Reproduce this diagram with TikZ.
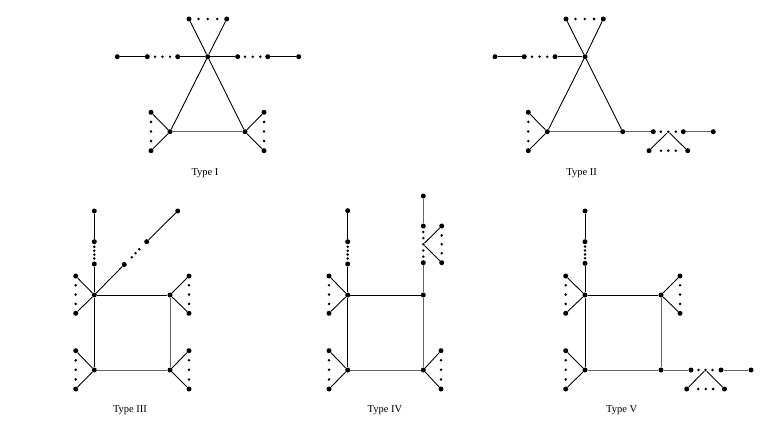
\documentclass[tikz,border=0pt]{standalone}
\usepackage{fontspec}
\setmainfont{Liberation Serif}
\begin{document}
\begin{tikzpicture}[x=1pt,y=-1pt,
  v/.style={circle,fill=black,inner sep=0pt,minimum size=5pt},
  sd/.style={circle,fill=black,inner sep=0pt,minimum size=2.8pt},
  e/.style={line width=0.9pt,draw=black},
  ge/.style={line width=1pt,draw=black!60},
  lab/.style={font=\fontsize{10.5}{12}\selectfont}]
\useasboundingbox (0,0) rectangle (784,425);

% ===== Type I =====
\node[v] (a1) at (207.7,56.7) {};
\node[v] (a2) at (189,19) {};
\node[v] (a3) at (226.7,19) {};
\node[v] (a4) at (170,131.7) {};
\node[v] (a5) at (245,131.7) {};
\node[v] (a6) at (117.3,56.7) {};
\node[v] (a7) at (147.3,56.7) {};
\node[v] (a8) at (177.7,56.7) {};
\node[v] (a9) at (237.7,56.7) {};
\node[v] (a10) at (267.7,56.7) {};
\node[v] (a11) at (298.7,56.7) {};
\node[v] (a12) at (151,112.3) {};
\node[v] (a13) at (151,150.7) {};
\node[v] (a14) at (264,112.3) {};
\node[v] (a15) at (264,150.7) {};
\foreach \x [count=\i] in {198.4,207.8,217.2} \node[sd] (at\i) at (\x,19) {};
\foreach \x [count=\i] in {155,162.5,170} \node[sd] (al\i) at (\x,56.7) {};
\foreach \x [count=\i] in {245,252.7,260.3} \node[sd] (ar\i) at (\x,56.7) {};
\foreach \y [count=\i] in {121.9,131.5,141.1} {
  \node[sd] (ap\i) at (151,\y) {};
  \node[sd] (aq\i) at (264,\y) {};
}
\draw[e] (a2) -- (a1) -- (a5);
\draw[e] (a3) -- (a1) -- (a4);
\draw[ge] (a4) -- (a5);
\draw[e] (a6) -- (a7);
\draw[e] (a8) -- (a1) -- (a9);
\draw[e] (a10) -- (a11);
\draw[e] (a12) -- (a4) -- (a13);
\draw[e] (a14) -- (a5) -- (a15);
\node[lab] (l1) at (205,173) {Type I};

% ===== Type II =====
\node[v] (b1) at (585,56.7) {};
\node[v] (b2) at (566,19) {};
\node[v] (b3) at (603.3,19) {};
\node[v] (b4) at (547.3,131.7) {};
\node[v] (b5) at (622.7,131.7) {};
\node[v] (b6) at (495,56.7) {};
\node[v] (b7) at (524.3,56.7) {};
\node[v] (b8) at (555,56.7) {};
\node[v] (b12) at (528.3,112.3) {};
\node[v] (b13) at (528.3,150.7) {};
\node[v] (b20) at (653.3,131.7) {};
\node[v] (b21) at (683.3,131.7) {};
\node[v] (b22) at (713.3,131.7) {};
\node[sd] (b23) at (668.3,131.7) {};
\node[v] (b24) at (649,150.7) {};
\node[v] (b25) at (687.7,150.7) {};
\foreach \x [count=\i] in {575.5,584.8,594.1} \node[sd] (bt\i) at (\x,19) {};
\foreach \x [count=\i] in {532,539.6,547.2} \node[sd] (bl\i) at (\x,56.7) {};
\foreach \y [count=\i] in {121.9,131.5,141.1} \node[sd] (bp\i) at (528.3,\y) {};
\foreach \x [count=\i] in {660.8,675.8} \node[sd] (bh\i) at (\x,131.7) {};
\foreach \x [count=\i] in {661,668.3,675.7} \node[sd] (bv\i) at (\x,150.7) {};
\draw[e] (b2) -- (b1) -- (b5);
\draw[e] (b3) -- (b1) -- (b4);
\draw[ge] (b4) -- (b5) -- (b20);
\draw[ge] (b21) -- (b22);
\draw[e] (b6) -- (b7);
\draw[e] (b8) -- (b1);
\draw[e] (b12) -- (b4) -- (b13);
\draw[e] (b24) -- (b23) -- (b25);
\node[lab] (l2) at (581.7,173) {Type II};

% ===== Type III =====
\node[v] (c1) at (94.3,295) {};
\node[v] (c2) at (170,295) {};
\node[v] (c3) at (94.3,370) {};
\node[v] (c4) at (170,370) {};
\node[v] (c5) at (94.3,211) {};
\node[v] (c6) at (94.3,241.7) {};
\node[v] (c7) at (94.3,264) {};
\node[v] (c8) at (124.3,264.5) {};
\node[v] (c9) at (146.7,241.7) {};
\node[v] (c10) at (177.7,211) {};
\node[v] (c11) at (75.7,276) {};
\node[v] (c12) at (75.7,313.3) {};
\node[v] (c13) at (189,276) {};
\node[v] (c14) at (189,313.3) {};
\node[v] (c15) at (75.7,350.7) {};
\node[v] (c16) at (75.7,389) {};
\node[v] (c17) at (189,350.7) {};
\node[v] (c18) at (189,389) {};
\foreach \y [count=\i] in {246.8,250.7,254.6,258.5} \node[sd] (cv\i) at (94.3,\y) {};
\foreach \x/\y [count=\i] in {131.7/257.3,135.5/253.3,139.3/249.3} \node[sd] (cd\i) at (\x,\y) {};
\foreach \y [count=\i] in {285.3,294.6,303.9} {
  \node[sd] (cp\i) at (75.7,\y) {};
  \node[sd] (cq\i) at (189,\y) {};
}
\foreach \y [count=\i] in {360.3,369.8,379.4} {
  \node[sd] (cr\i) at (75.7,\y) {};
  \node[sd] (cs\i) at (189,\y) {};
}
\draw[e] (c5) -- (c6);
\draw[e] (c7) -- (c1);
\draw[e] (c1) -- (c8);
\draw[e] (c9) -- (c10);
\draw[e] (c3) -- (c1) -- (c2);
\draw[ge] (c2) -- (c4) -- (c3);
\draw[e] (c11) -- (c1) -- (c12);
\draw[e] (c13) -- (c2) -- (c14);
\draw[e] (c15) -- (c3) -- (c16);
\draw[e] (c17) -- (c4) -- (c18);
\node[lab] (l3) at (130,410.5) {Type III};

% ===== Type IV =====
\node[v] (d1) at (347.7,295) {};
\node[v] (d2) at (423.3,295) {};
\node[v] (d3) at (347.7,370) {};
\node[v] (d4) at (423.3,370) {};
\node[v] (d5) at (347.7,210.7) {};
\node[v] (d6) at (347.7,241.7) {};
\node[v] (d7) at (347.7,264) {};
\node[v] (d8) at (423.3,196) {};
\node[v] (d9) at (423.3,226) {};
\node[v] (d10) at (423.3,262.7) {};
\node[sd] (d11) at (423.3,244.3) {};
\node[v] (d12) at (441.7,226) {};
\node[v] (d13) at (441.7,262.7) {};
\node[v] (d14) at (329,276) {};
\node[v] (d15) at (329,313.3) {};
\node[v] (d16) at (329,350.7) {};
\node[v] (d17) at (329,389) {};
\node[v] (d18) at (441,350.7) {};
\node[v] (d19) at (441,389) {};
\foreach \y [count=\i] in {246.8,250.7,254.6,258.5} \node[sd] (dv\i) at (347.7,\y) {};
\foreach \y [count=\i] in {232,238.1,250.5,256.6} \node[sd] (dw\i) at (423.3,\y) {};
\foreach \y [count=\i] in {235.4,244.3,253.2} \node[sd] (dx\i) at (441.7,\y) {};
\foreach \y [count=\i] in {285.3,294.6,303.9} \node[sd] (dp\i) at (329,\y) {};
\foreach \y [count=\i] in {360.3,369.8,379.4} {
  \node[sd] (dr\i) at (329,\y) {};
  \node[sd] (ds\i) at (441,\y) {};
}
\draw[e] (d5) -- (d6);
\draw[e] (d7) -- (d1);
\draw[ge] (d8) -- (d9);
\draw[ge] (d10) -- (d2);
\draw[e] (d12) -- (d11) -- (d13);
\draw[e] (d3) -- (d1) -- (d2);
\draw[ge] (d2) -- (d4) -- (d3);
\draw[e] (d14) -- (d1) -- (d15);
\draw[e] (d16) -- (d3) -- (d17);
\draw[e] (d18) -- (d4) -- (d19);
\node[lab] (l4) at (385,410.5) {Type IV};

% ===== Type V =====
\node[v] (f1) at (585,295) {};
\node[v] (f2) at (661,295) {};
\node[v] (f3) at (585,370) {};
\node[v] (f4) at (661,370) {};
\node[v] (f5) at (585,211) {};
\node[v] (f6) at (585,241.7) {};
\node[v] (f7) at (585,263.3) {};
\node[v] (f8) at (565.7,276) {};
\node[v] (f9) at (565.7,313.3) {};
\node[v] (f10) at (680,276) {};
\node[v] (f11) at (680,313.3) {};
\node[v] (f12) at (565.7,350.7) {};
\node[v] (f13) at (565.7,389) {};
\node[v] (f14) at (691,370) {};
\node[sd] (f15) at (705.5,370) {};
\node[v] (f16) at (721,370) {};
\node[v] (f17) at (751,370) {};
\node[v] (f18) at (686.7,389) {};
\node[v] (f19) at (724.5,389) {};
\foreach \y [count=\i] in {246.6,250.5,254.4,258.3} \node[sd] (fv\i) at (585,\y) {};
\foreach \x [count=\i] in {698.5,712.5} \node[sd] (fh\i) at (\x,370) {};
\foreach \x [count=\i] in {698.3,705.7,713.1} \node[sd] (fb\i) at (\x,389) {};
\foreach \y [count=\i] in {285.3,294.6,303.9} {
  \node[sd] (fp\i) at (565.7,\y) {};
  \node[sd] (fq\i) at (680,\y) {};
}
\foreach \y [count=\i] in {360.3,369.8,379.4} \node[sd] (fr\i) at (565.7,\y) {};
\draw[e] (f5) -- (f6);
\draw[e] (f7) -- (f1);
\draw[e] (f3) -- (f1) -- (f2);
\draw[ge] (f2) -- (f4) -- (f3);
\draw[ge] (f4) -- (f14);
\draw[ge] (f16) -- (f17);
\draw[e] (f18) -- (f15) -- (f19);
\draw[e] (f8) -- (f1) -- (f9);
\draw[e] (f10) -- (f2) -- (f11);
\draw[e] (f12) -- (f3) -- (f13);
\node[lab] (l5) at (621.7,410.5) {Type V};
\end{tikzpicture}
\end{document}
